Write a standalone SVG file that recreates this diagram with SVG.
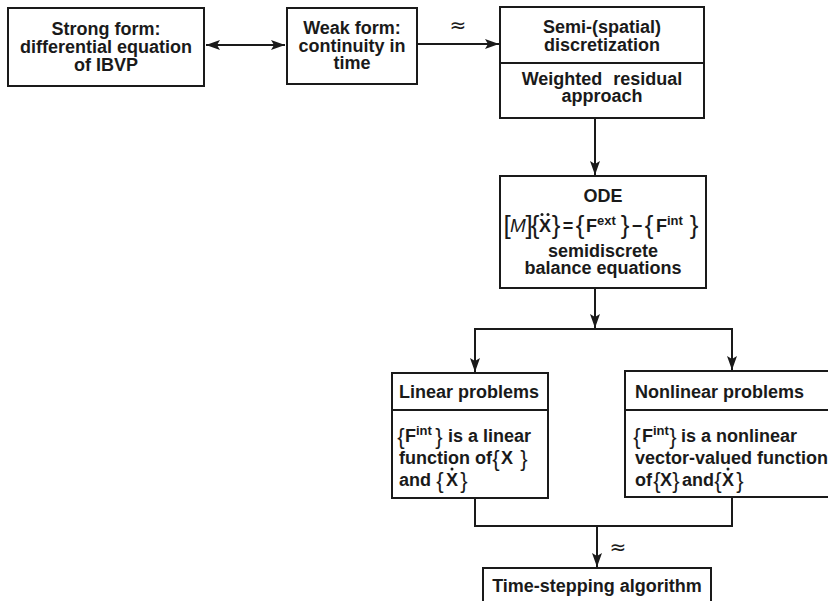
<svg xmlns="http://www.w3.org/2000/svg" width="828" height="601" viewBox="0 0 828 601">
  <defs>
    <marker id="arrow" viewBox="0 0 14 10" refX="14" refY="5" markerWidth="14" markerHeight="10" markerUnits="userSpaceOnUse" orient="auto-start-reverse">
      <path d="M0,0 L14,5 L0,10 L3,5 Z" fill="#1a1a1a"/>
    </marker>
    <style>
      .box { fill: #fff; stroke: #1a1a1a; stroke-width: 2; }
      .div { stroke: #1a1a1a; stroke-width: 2; }
      .t { font-family: "Liberation Sans", Arial, sans-serif; font-weight: bold; font-size: 18px; fill: #1a1a1a; }
      .c { text-anchor: middle; }
      .sup { font-size: 13px; }
      .br { font-family: "Liberation Sans Narrow", "Liberation Sans", Arial, sans-serif; font-weight: normal; font-size: 22px; fill: #1a1a1a; text-anchor: middle; }
      .brl { font-family: "Liberation Sans Narrow", "Liberation Sans", Arial, sans-serif; font-weight: normal; font-size: 26px; fill: #1a1a1a; text-anchor: middle; }
      .it { font-family: "Liberation Sans", Arial, sans-serif; font-style: italic; font-weight: normal; font-size: 19px; fill: #1a1a1a; text-anchor: middle; }
      .approx { font-family: "DejaVu Sans", sans-serif; font-size: 20px; fill: #1a1a1a; text-anchor: middle; }
      .line { fill: none; stroke: #1a1a1a; stroke-width: 2; }
      .dot { fill: #1a1a1a; }
    </style>
  </defs>

  <!-- Connectors -->
  <g id="connectors">
    <line class="line" x1="206" y1="45" x2="285" y2="45" marker-start="url(#arrow)" marker-end="url(#arrow)"/>
    <line class="line" x1="418" y1="44" x2="499" y2="44" marker-end="url(#arrow)"/>
    <text class="approx" x="458" y="32">≈</text>
    <line class="line" x1="595" y1="118" x2="595" y2="175" marker-end="url(#arrow)"/>
    <line class="line" x1="595" y1="288" x2="595" y2="328" marker-end="url(#arrow)"/>
    <polyline class="line" points="475,350 475,329 732,329 732,350"/>
    <line class="line" x1="475" y1="340" x2="475" y2="372" marker-end="url(#arrow)"/>
    <line class="line" x1="732" y1="340" x2="732" y2="370" marker-end="url(#arrow)"/>
    <polyline class="line" points="475,498 475,526 732,526 732,497"/>
    <line class="line" x1="597" y1="526" x2="597" y2="567" marker-end="url(#arrow)"/>
    <text class="approx" x="618" y="554">≈</text>
  </g>

  <!-- Strong form -->
  <g id="strong-form">
    <rect class="box" x="8" y="8" width="196" height="78"/>
    <text class="t c" x="106" y="35">Strong form:</text>
    <text class="t c" x="106" y="53">differential equation</text>
    <text class="t c" x="106" y="71">of IBVP</text>
  </g>

  <!-- Weak form -->
  <g id="weak-form">
    <rect class="box" x="287" y="8" width="130" height="76"/>
    <text class="t c" x="352" y="34">Weak form:</text>
    <text class="t c" x="352" y="52">continuity in</text>
    <text class="t c" x="352" y="69">time</text>
  </g>

  <!-- Semi-discretization -->
  <g id="semi-discretization">
    <rect class="box" x="500" y="7" width="204" height="111"/>
    <line class="div" x1="500" y1="63" x2="704" y2="63"/>
    <text class="t c" x="602" y="33">Semi-(spatial)</text>
    <text class="t c" x="602" y="51">discretization</text>
    <text class="t c" x="602" y="85" word-spacing="6">Weighted residual</text>
    <text class="t c" x="602" y="102">approach</text>
  </g>

  <!-- ODE -->
  <g id="ode">
    <rect class="box" x="500" y="176" width="206" height="112"/>
    <text class="t c" x="603" y="202">ODE</text>
    <text class="brl" x="507" y="234">[</text>
    <text class="it" x="518" y="232">M</text>
    <text class="brl" x="529" y="234">]</text>
    <text class="brl" x="535" y="234">{</text>
    <text class="t c" x="545" y="232">X</text>
    <circle class="dot" cx="542" cy="214.5" r="1.5"/>
    <circle class="dot" cx="548" cy="214.5" r="1.5"/>
    <text class="brl" x="556" y="234">}</text>
    <text class="t c" x="568" y="232">=</text>
    <text class="brl" x="580" y="234">{</text>
    <text class="t" x="586" y="232">F<tspan class="sup" dy="-7">ext</tspan></text>
    <text class="brl" x="625" y="234">}</text>
    <text class="t c" x="637" y="232">−</text>
    <text class="brl" x="649" y="234">{</text>
    <text class="t" x="656" y="232">F<tspan class="sup" dy="-7">int</tspan></text>
    <text class="brl" x="694" y="234">}</text>
    <text class="t c" x="603" y="257">semidiscrete</text>
    <text class="t c" x="603" y="274">balance equations</text>
  </g>

  <!-- Linear problems -->
  <g id="linear-problems">
    <rect class="box" x="392" y="373" width="156" height="125"/>
    <line class="div" x1="392" y1="410" x2="548" y2="410"/>
    <text class="t" x="399" y="398">Linear problems</text>
    <text class="br" x="401" y="444">{</text>
    <text class="t" x="405" y="442">F<tspan class="sup" dy="-7">int</tspan></text>
    <text class="br" x="439" y="444">}</text>
    <text class="t" x="448" y="442">is a linear</text>
    <text class="t" x="399" y="464">function of</text>
    <text class="br" x="496" y="466">{</text>
    <text class="t c" x="507" y="464">X</text>
    <text class="br" x="524" y="466">}</text>
    <text class="t" x="399" y="486">and</text>
    <text class="br" x="440" y="488">{</text>
    <text class="t c" x="452" y="486">X</text>
    <circle class="dot" cx="452" cy="469" r="1.5"/>
    <text class="br" x="464" y="488">}</text>
  </g>

  <!-- Nonlinear problems -->
  <g id="nonlinear-problems">
    <rect class="box" x="625" y="371" width="210" height="126"/>
    <line class="div" x1="625" y1="410" x2="828" y2="410"/>
    <text class="t" x="635" y="398">Nonlinear problems</text>
    <text class="br" x="637" y="444">{</text>
    <text class="t" x="642" y="442">F<tspan class="sup" dy="-7">int</tspan></text>
    <text class="br" x="673" y="444">}</text>
    <text class="t" x="681" y="442">is a nonlinear</text>
    <text class="t" x="635" y="464">vector-valued function</text>
    <text class="t" x="635" y="486">of</text>
    <text class="br" x="657" y="488">{</text>
    <text class="t c" x="666" y="486">X</text>
    <text class="br" x="676" y="488">}</text>
    <text class="t" x="682" y="486">and</text>
    <text class="br" x="718" y="488">{</text>
    <text class="t c" x="728" y="486">X</text>
    <circle class="dot" cx="728" cy="469" r="1.5"/>
    <text class="br" x="740" y="488">}</text>
  </g>

  <!-- Time-stepping algorithm -->
  <g id="time-stepping">
    <rect class="box" x="483" y="568" width="228" height="50"/>
    <text class="t c" x="597" y="592">Time-stepping algorithm</text>
  </g>
</svg>
